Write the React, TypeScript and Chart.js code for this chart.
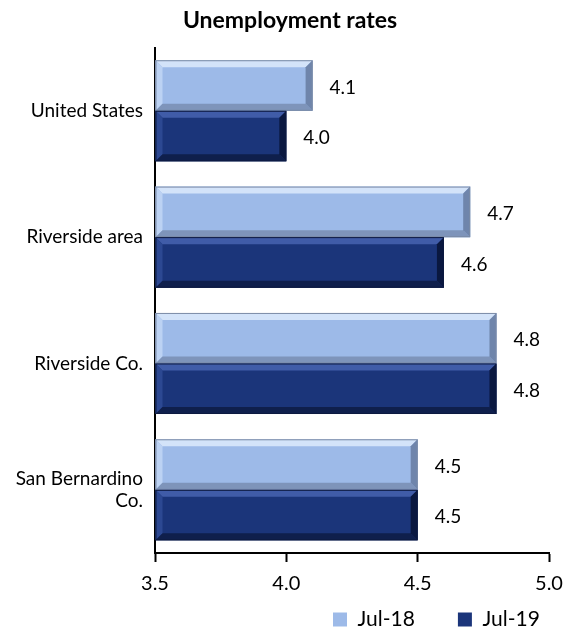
import React, { useEffect, useRef } from "react";
import { Chart, registerables } from "chart.js";

Chart.register(...registerables);

const categories: (string | string[])[] = [
  "United States",
  "Riverside area",
  "Riverside Co.",
  ["San Bernardino", "Co."],
];
const jul18: number[] = [4.1, 4.7, 4.8, 4.5];
const jul19: number[] = [4.0, 4.6, 4.8, 4.5];
const seriesNames: string[] = ["Jul-18", "Jul-19"];
const xTicks: number[] = [3.5, 4.0, 4.5, 5.0];
const axisMin = 3.5;
const axisMax = 5.0;

const FONT = "Lato, 'Open Sans', sans-serif";
const LEGEND_PAD = 43;

const bevelColors = [
  { face: "#9DBAE8", top: "#D3E3F9", left: "#BCD2F3", bottom: "#7E94BA", right: "#6F85AB", edge: "#7A8AA6" },
  { face: "#1B357A", top: "#405CA8", left: "#2C4892", bottom: "#0F1F4C", right: "#0A1840", edge: "#0D1A40" },
];

const bevelPlugin = {
  id: "bevel",
  afterDatasetsDraw(chart: any) {
    const ctx = chart.ctx;
    chart.data.datasets.forEach((ds: any, di: number) => {
      const meta = chart.getDatasetMeta(di);
      const c = bevelColors[di];
      meta.data.forEach((bar: any) => {
        const { x, y, base, height } = bar.getProps(["x", "y", "base", "height"], true);
        const l = Math.max(Math.min(x, base), chart.chartArea.left);
        const r = Math.max(x, base);
        const t = y - height / 2;
        const b = y + height / 2;
        const bv = 7;
        ctx.save();
        const poly = (pts: number[][], col: string) => {
          ctx.beginPath();
          ctx.moveTo(pts[0][0], pts[0][1]);
          for (let i = 1; i < pts.length; i++) ctx.lineTo(pts[i][0], pts[i][1]);
          ctx.closePath();
          ctx.fillStyle = col;
          ctx.fill();
        };
        poly([[l, t], [r, t], [r - bv, t + bv], [l + bv, t + bv]], c.top);
        poly([[l, t], [l + bv, t + bv], [l + bv, b - bv], [l, b]], c.left);
        poly([[l, b], [l + bv, b - bv], [r - bv, b - bv], [r, b]], c.bottom);
        poly([[r, t], [r, b], [r - bv, b - bv], [r - bv, t + bv]], c.right);
        ctx.strokeStyle = c.edge;
        ctx.lineWidth = 1;
        ctx.strokeRect(l + 0.5, t + 0.5, r - l - 1, b - t - 1);
        ctx.restore();
      });
    });
  },
};

const labelPlugin = {
  id: "valueLabels",
  afterDatasetsDraw(chart: any) {
    const ctx = chart.ctx;
    ctx.save();
    ctx.font = `19px ${FONT}`;
    ctx.fillStyle = "#000";
    ctx.textAlign = "left";
    ctx.textBaseline = "middle";
    chart.data.datasets.forEach((ds: any, di: number) => {
      const meta = chart.getDatasetMeta(di);
      meta.data.forEach((bar: any, i: number) => {
        const v = ds.data[i] as number;
        ctx.fillText(v.toFixed(1), bar.x + 17, bar.y + 2);
      });
    });
    ctx.restore();
  },
};

// place the legend row under the right part of the plot, and nudge the title, as in the reference
const layoutPlace = {
  id: "layoutPlace",
  afterLayout(chart: any) {
    const lg = chart.legend;
    if (lg) {
      lg.left = 290;
      lg.right = 700;
      lg.top = 609 - LEGEND_PAD;
      lg.bottom = 630;
      lg.width = lg.right - lg.left;
      lg.height = lg.bottom - lg.top;
    }
    const tb = chart.titleBlock;
    if (tb) {
      tb.left = 14;
      tb.right = 566;
      tb.width = tb.right - tb.left;
    }
  },
};

export default function App() {
  const ref = useRef<HTMLCanvasElement | null>(null);
  useEffect(() => {
    if (!ref.current) return;
    const chart = new Chart(ref.current, {
      type: "bar",
      data: {
        labels: categories as any,
        datasets: [
          {
            label: seriesNames[0],
            data: jul18,
            base: axisMin,
            backgroundColor: bevelColors[0].face,
            borderWidth: 0,
            categoryPercentage: 0.8,
            barPercentage: 1.0,
          },
          {
            label: seriesNames[1],
            data: jul19,
            base: axisMin,
            backgroundColor: bevelColors[1].face,
            borderWidth: 0,
            categoryPercentage: 0.8,
            barPercentage: 1.0,
          },
        ],
      },
      options: {
        indexAxis: "y",
        animation: false,
        responsive: false,
        maintainAspectRatio: false,
        layout: { padding: { left: 0, right: 0, top: 0, bottom: 0 } },
        scales: {
          x: {
            min: axisMin,
            max: axisMax,
            afterBuildTicks: (scale: any) => {
              scale.ticks = xTicks.map((v) => ({ value: v }));
            },
            afterFit: (scale: any) => {
              scale.height = 57;
              scale.paddingRight = 17;
            },
            ticks: {
              color: "#000",
              font: { family: FONT, size: 20 },
              padding: 10,
              callback: (v: any) => Number(v).toFixed(1),
            },
            grid: {
              display: true,
              drawOnChartArea: false,
              drawTicks: true,
              tickLength: 9,
              tickColor: "#000",
              tickWidth: 2,
            },
            border: { display: true, color: "#000", width: 2 },
          },
          y: {
            afterFit: (scale: any) => {
              scale.width = 155;
            },
            ticks: {
              color: "#000",
              font: { family: FONT, size: 19 },
              padding: 12,
            },
            grid: { display: false, drawTicks: false },
            border: { display: true, color: "#000", width: 2 },
          },
        },
        plugins: {
          title: {
            display: true,
            text: "Unemployment rates",
            color: "#000",
            font: { family: FONT, size: 23, weight: "bold" },
            padding: { top: 7, bottom: 13 },
          },
          legend: {
            display: true,
            position: "bottom",
            align: "start",
            fullSize: true,
            maxHeight: 20,
            labels: {
              color: "#000",
              font: { family: FONT, size: 21 },
              boxWidth: 14,
              boxHeight: 14,
              padding: LEGEND_PAD,
            },
          },
          tooltip: { enabled: false },
        },
      },
      plugins: [bevelPlugin, labelPlugin, layoutPlace],
    });
    return () => chart.destroy();
  }, []);
  return (
    <div style={{ position: "fixed", left: 0, top: 0, width: 566, height: 630, background: "#fff" }}>
      <canvas ref={ref} width={566} height={630} style={{ width: 566, height: 630 }} />
    </div>
  );
}
